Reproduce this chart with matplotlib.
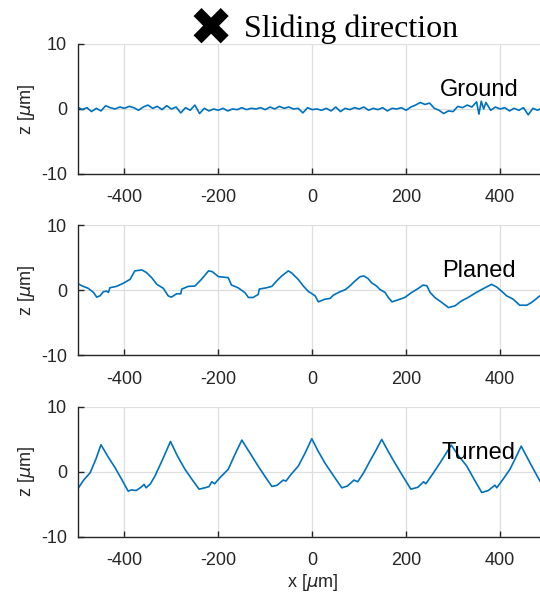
import matplotlib
matplotlib.use("Agg")
import matplotlib.pyplot as plt

# ---------------- data ----------------
ground_x = [-500, -490, -480, -470, -460, -450, -440, -430, -420, -410,
            -400, -390, -380, -370, -360, -350, -340, -330, -320, -310,
            -300, -290, -280, -270, -260, -250, -240, -230, -220, -210,
            -200, -190, -180, -170, -160, -150, -140, -130, -120, -110,
            -100, -90, -80, -70, -60, -50, -40, -30, -20, -10,
            0, 10, 20, 30, 40, 50, 60, 70, 80, 90,
            100, 110, 120, 130, 140, 150, 160, 170, 180, 190,
            200, 210, 220, 230, 240, 250, 260, 270, 280, 290,
            300, 310, 320, 330, 340, 350, 355, 360, 365, 370,
            380, 390, 400, 410, 420, 430, 440, 450, 460, 470,
            480, 490, 500]
ground_z = [0.3, -0.1, 0.2, -0.4, 0.1, -0.3, 0.5, 0.2, 0.0, 0.3,
            0.1, 0.4, 0.2, -0.2, 0.3, 0.6, 0.1, 0.4, -0.1, 0.5,
            0.0, 0.3, -0.6, 0.2, -0.2, 0.6, -0.7, 0.1, -0.3, 0.0,
            -0.2, 0.1, -0.3, 0.0, -0.1, 0.2, -0.1, 0.1, 0.0, 0.2,
            -0.1, 0.3, 0.0, 0.4, 0.1, 0.3, 0.0, 0.1, -0.6, 0.2,
            -0.1, 0.0, -0.2, 0.1, -0.3, 0.3, -0.4, 0.1, -0.1, 0.2,
            0.0, 0.3, -0.2, 0.1, -0.1, 0.2, -0.3, 0.1, 0.0, 0.2,
            -0.2, 0.3, 0.6, 1.0, 0.7, 0.9, 0.1, -0.2, -0.7, -0.3,
            -0.4, 0.4, 0.2, 0.6, 0.3, 1.1, -0.8, 1.2, 0.0, 1.0,
            -0.2, 0.3, 0.0, 0.2, -0.3, 0.1, -0.2, 0.2, -0.9, 0.1,
            -0.2, 0.2, 0.0]

planed_x = [-500, -491, -477, -466, -459, -452, -445, -438, -434, -431,
            -417, -403, -388, -378, -363, -353, -342, -331, -317, -307,
            -300, -289, -280, -278, -264, -250, -236, -221, -213, -200,
            -179, -172, -158, -143, -136, -126, -115, -113, -97, -86,
            -76, -65, -51, -44, -30, -19, -9, -5, 6, 13,
            27, 38, 45, 59, 70, 80, 91, 102, 110, 119,
            126, 137, 144, 155, 162, 170, 183, 197, 212, 226,
            236, 244, 251, 261, 276, 290, 304, 318, 332, 347,
            361, 375, 382, 393, 403, 414, 428, 442, 457, 467,
            478, 485, 500]
planed_z = [1.06, 0.70, 0.29, -0.33, -1.06, -0.85, -0.23, -0.13, -0.33, 0.39,
            0.60, 1.06, 1.68, 2.98, 3.13, 2.72, 1.94, 0.91, 0.29, -0.85,
            -1.06, -0.54, -0.54, 0.18, 0.60, 0.65, 1.68, 2.98, 2.87, 2.10,
            1.94, 0.80, 0.39, -0.39, -1.11, -1.11, -0.64, 0.18, 0.39, 0.60,
            1.42, 2.20, 2.98, 2.67, 1.68, 0.65, -0.13, -0.33, -0.85, -1.78,
            -1.37, -1.26, -0.75, -0.23, 0.08, 0.65, 1.42, 2.10, 2.20, 1.79,
            1.17, 0.65, 0.13, -0.33, -1.11, -1.78, -1.47, -1.11, -0.33, 0.29,
            0.80, 0.70, -0.33, -1.11, -1.88, -2.66, -2.40, -1.63, -1.11, -0.44,
            0.13, 0.65, 0.91, 0.49, -0.13, -0.85, -1.37, -2.30, -2.30, -1.88,
            -1.26, -0.85, -0.30]

turned_x = [-500, -487, -473, -461, -450, -435, -420, -405, -392, -385,
            -375, -365, -358, -354, -345, -335, -318, -302, -287, -271,
            -256, -241, -230, -220, -214, -208, -195, -179, -165, -150,
            -132, -115, -100, -86, -75, -62, -56, -45, -30, -15,
            -1, 13, 27, 45, 63, 75, 89, 97, 110, 123,
            135, 148, 162, 176, 193, 210, 225, 237, 242, 257,
            272, 284, 296, 312, 329, 345, 361, 375, 389, 393,
            407, 421, 433, 445, 465, 485, 500]
turned_z = [-2.70, -1.30, -0.16, 1.90, 4.14, 2.30, 0.62, -1.30, -3.00, -2.80,
            -2.90, -2.40, -1.96, -2.48, -1.90, -0.67, 2.00, 4.65, 2.40, 0.36,
            -1.20, -2.69, -2.50, -2.30, -1.55, -1.86, -0.80, 0.36, 2.60, 4.86,
            2.80, 0.83, -0.80, -2.27, -2.10, -1.29, -1.45, -0.40, 0.83, 2.90,
            5.07, 3.10, 1.34, -0.60, -2.48, -2.20, -1.29, -1.55, -0.10, 1.65,
            3.20, 4.96, 3.10, 1.34, -0.70, -2.69, -2.40, -1.55, -1.86, -0.30,
            1.34, 2.70, 4.10, 2.40, 0.88, -1.20, -3.20, -2.90, -2.07, -2.48,
            -1.10, 0.36, 2.10, 3.93, 1.20, -1.45, -2.60]

profiles = [("Ground", ground_x, ground_z),
            ("Planed", planed_x, planed_z),
            ("Turned", turned_x, turned_z)]

xticks = [-400, -200, 0, 200, 400]
yticks = [-10, 0, 10]
x_range = (-500, 500)

# ---------------- figure ----------------
plt.rcParams['font.family'] = ['Liberation Sans', 'DejaVu Sans']
fig = plt.figure(figsize=(5.4, 5.95), dpi=100)

left = 77.5 / 540
px_per_um = 0.4695
width = px_per_um * (x_range[1] - x_range[0]) / 540   # extends past the right edge (cropped)
height = 0.2185
bottoms = [0.7076, 0.4029, 0.0980]

line_color = '#0072BD'
axis_color = '#262626'

for (name, xs, zs), b in zip(profiles, bottoms):
    ax = fig.add_axes([left, b, width, height])
    ax.plot(xs, zs, color=line_color, lw=1.2, zorder=2)
    ax.set_xlim(*x_range)
    ax.set_ylim(-10, 10)
    ax.set_xticks(xticks)
    ax.set_yticks(yticks)
    ax.set_xticklabels([str(t) for t in xticks])
    ax.set_yticklabels([str(t) for t in yticks])
    ax.grid(True, color='#dedede', lw=0.9, zorder=0)
    ax.set_axisbelow(True)
    for s in ['top', 'right']:
        ax.spines[s].set_visible(False)
    for s in ['left', 'bottom']:
        ax.spines[s].set_color(axis_color)
        ax.spines[s].set_linewidth(1.0)
    ax.tick_params(direction='in', length=4, width=1.0, colors=axis_color,
                   labelsize=13)
    ax.tick_params(axis='x', pad=11)
    ax.tick_params(axis='y', pad=7.5)
    ax.set_ylabel(r'z [$\mu$m]', fontsize=13, color=axis_color, labelpad=3)
    ax.text(355, 2.0, name, fontsize=17, ha='center', va='baseline',
            color='black', zorder=5)
    if name == "Turned":
        ax.set_xlabel(r'x [$\mu$m]', fontsize=13, color=axis_color, labelpad=2.5)

# title with heavy X symbol
fig.text(211 / 540, 1 - 30 / 595, '\u2716', fontsize=38, ha='center', va='center',
         family=['DejaVu Sans'], color='black')
fig.text(244 / 540, 1 - 37 / 595, 'Sliding direction', fontsize=23,
         family=['Liberation Serif'], ha='left', va='baseline', color='black')

fig.savefig('out.png', dpi=100)
